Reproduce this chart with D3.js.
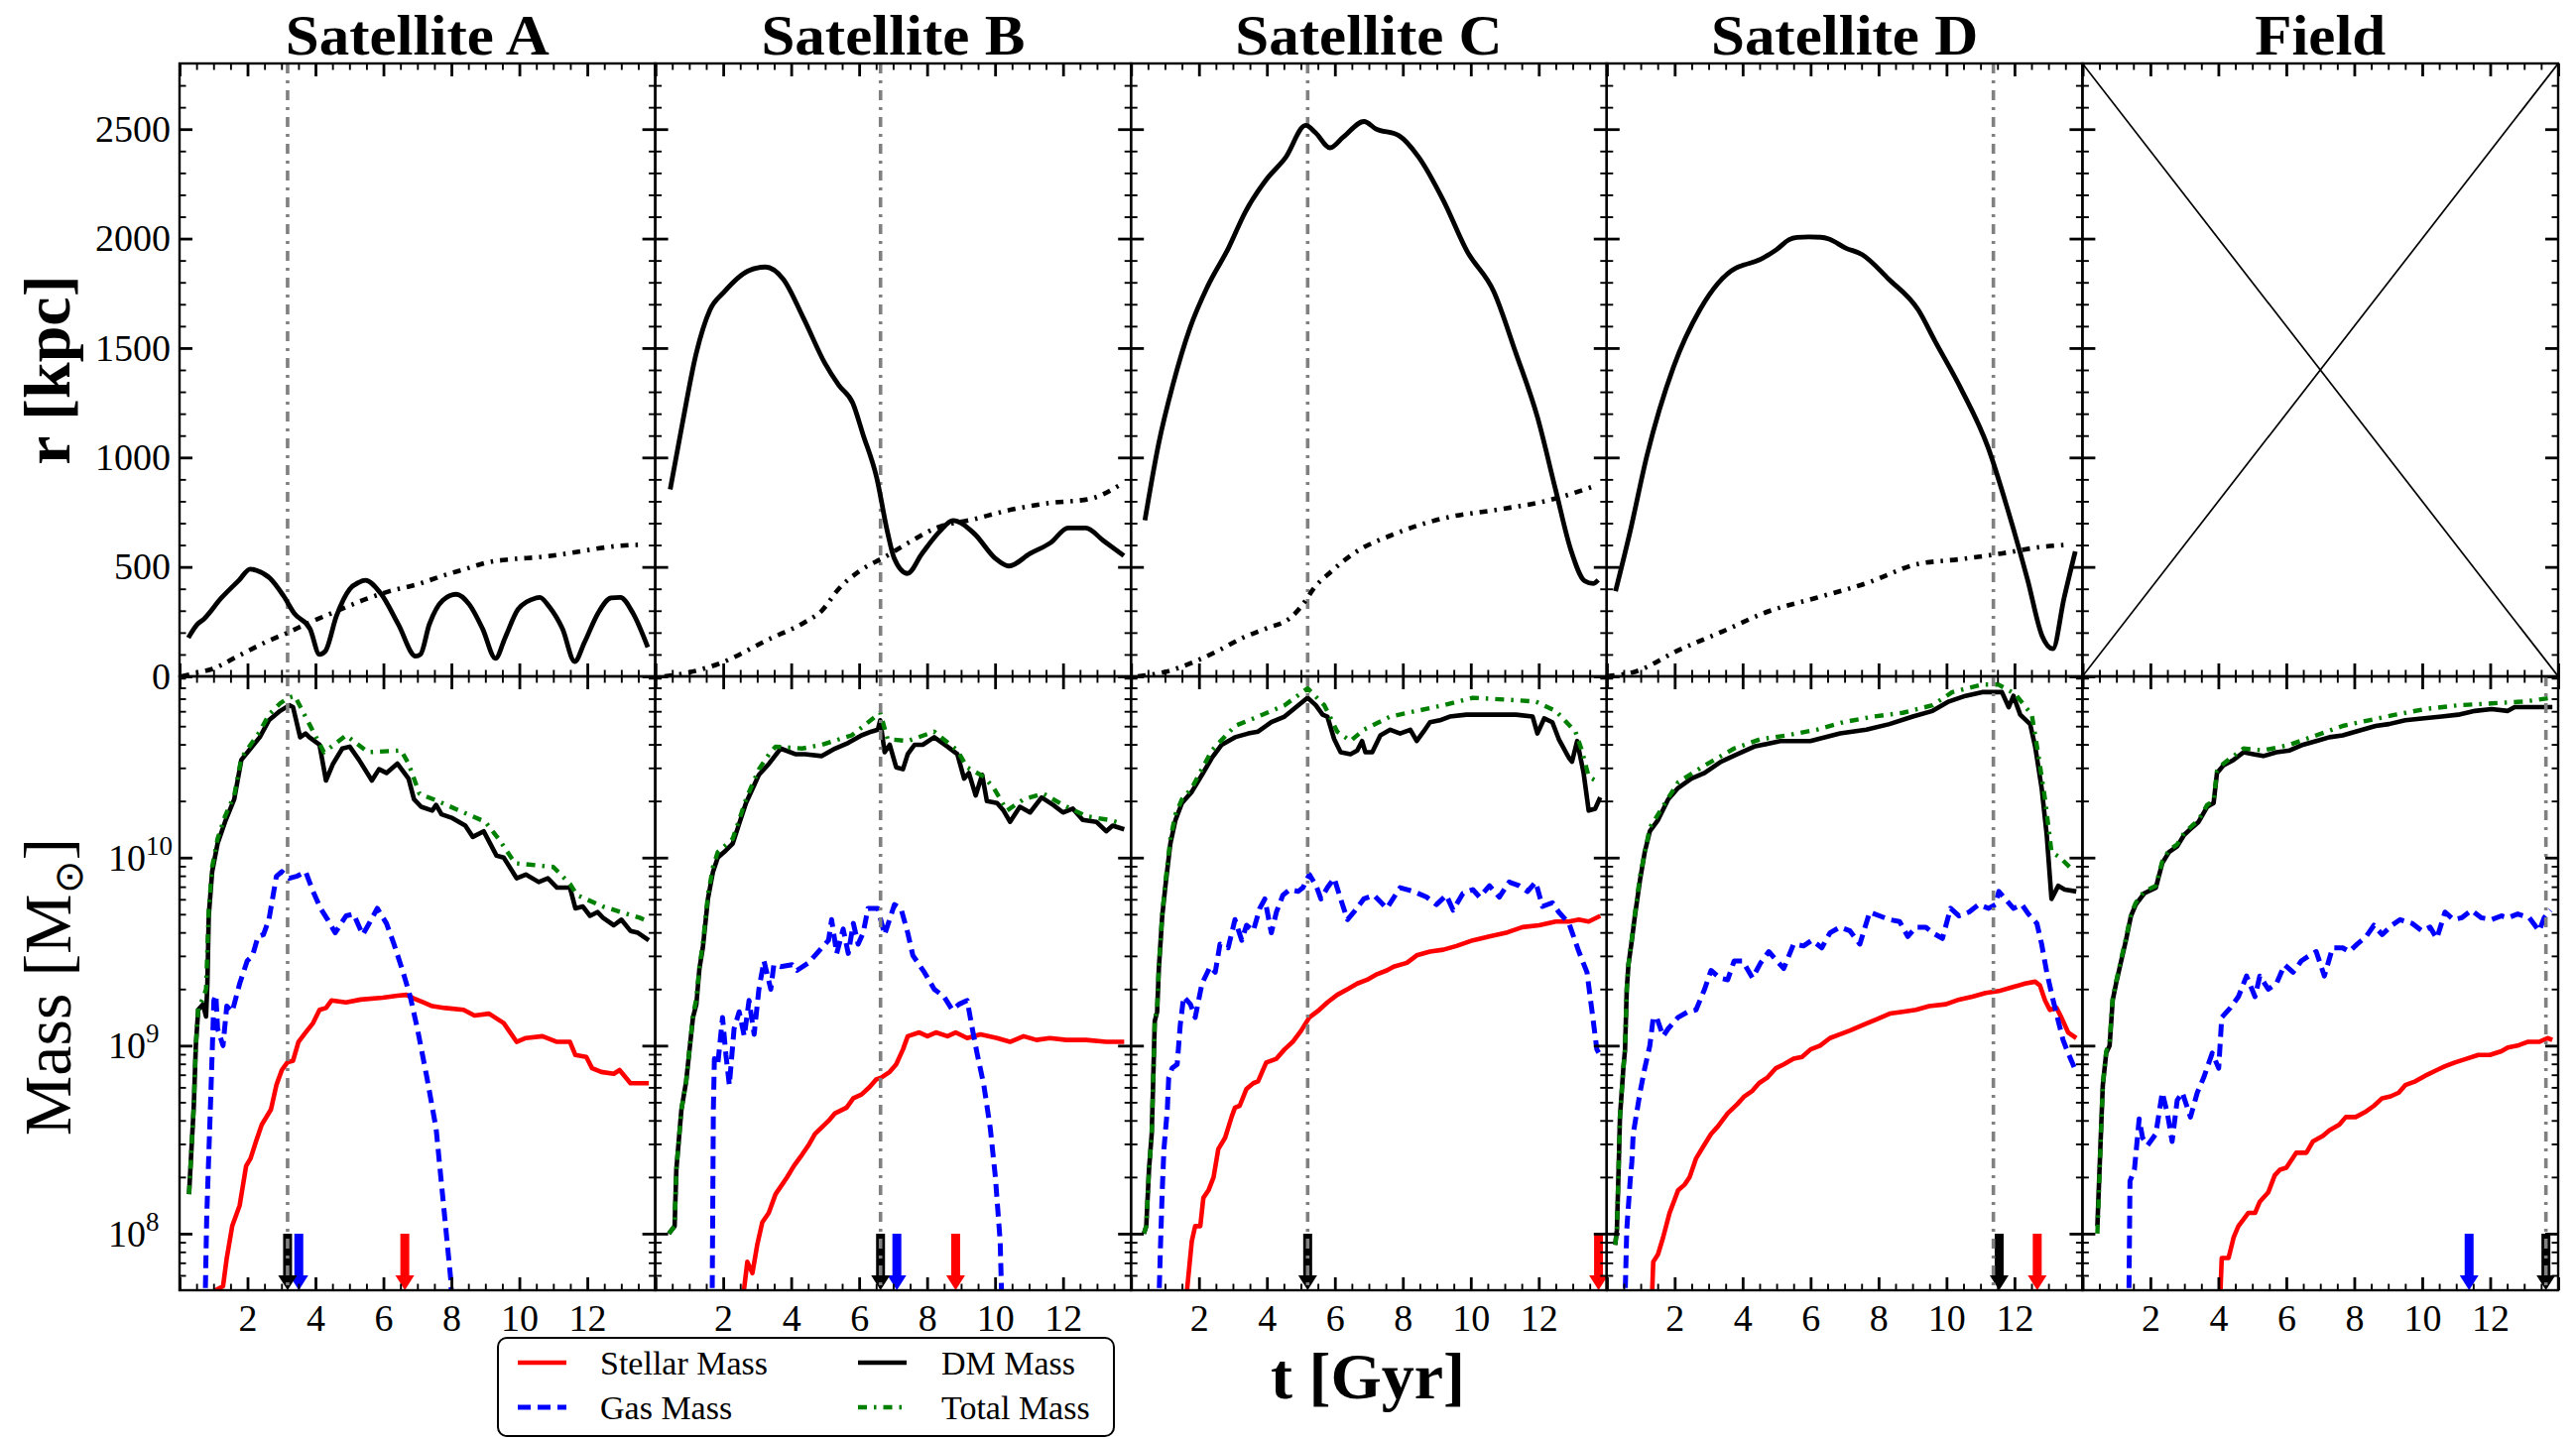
<!DOCTYPE html>
<html>
<head>
<meta charset="utf-8">
<script src="https://cdn.jsdelivr.net/npm/d3@7"></script>
<style>
  body { margin: 0; background: #fff; }
  text { fill: #000; }
</style>
</head>
<body>
<svg id="fig" width="2597" height="1451"></svg>
<script>
// ---------------------------------------------------------------
// Orbital radius r(t) [kpc] and virial radius of the host, per satellite
// ---------------------------------------------------------------
const rA = [[0.26,176],[0.52,237],[0.71,261],[1.23,358],[1.75,439],[2.08,490],[2.27,484],[2.66,449],[3.06,368],[3.38,287],[3.84,217],[4.12,100],[4.29,115],[4.62,277],[5.01,399],[5.27,429],[5.47,439],[5.92,379],[6.44,237],[6.95,92],[7.09,100],[7.35,237],[7.75,348],[8.14,375],[8.53,328],[8.92,217],[9.30,82],[9.58,176],[9.97,308],[10.49,358],[10.6,361],[10.88,318],[11.27,217],[11.63,68],[11.92,156],[12.31,287],[12.70,358],[12.97,361],[13.35,287],[13.78,133]];
const rB = [[0.44,854],[0.79,1148],[1.20,1472],[1.61,1674],[2.02,1755],[2.73,1852],[3.25,1870],[3.76,1816],[4.37,1634],[4.99,1431],[5.40,1330],[5.81,1249],[6.11,1107],[6.52,905],[6.83,662],[7.03,540],[7.42,470],[7.85,561],[8.37,662],[8.76,712],[9.39,652],[10.0,540],[10.41,504],[11.03,561],[11.64,611],[12.15,678],[12.67,678],[13.18,621],[13.79,551]];
const rC = [[0.41,713],[0.82,1067],[1.23,1330],[1.74,1593],[2.25,1780],[2.87,1957],[3.36,2120],[3.99,2271],[4.55,2370],[5.14,2517],[5.43,2484],[5.86,2415],[6.25,2464],[6.86,2535],[7.20,2502],[7.89,2470],[8.45,2376],[9.20,2172],[9.88,1945],[10.68,1757],[11.32,1480],[11.96,1185],[12.50,850],[12.94,580],[13.35,436],[13.60,424],[13.75,440]];
const rD = [[0.26,389],[0.69,662],[1.18,1006],[1.96,1411],[2.74,1674],[3.81,1866],[4.05,1880],[4.40,1897],[5.0,1950],[5.37,1995],[5.6,2005],[5.95,2008],[6.3,2006],[6.54,1998],[7.03,1957],[7.52,1927],[8.29,1816],[9.17,1674],[9.66,1532],[10.44,1310],[11.22,1047],[11.80,763],[12.39,439],[12.81,186],[13.13,126],[13.46,358],[13.79,571]];

const rvirA = [[0.06,0],[0.45,14],[0.97,34],[1.75,95],[2.53,156],[3.19,200],[3.84,247],[4.62,298],[5.4,348],[6.18,389],[6.97,419],[7.75,460],[8.40,490],[9.05,520],[9.83,536],[10.61,545],[11.40,561],[12.18,581],[12.96,597],[13.54,601]];
const rvirB = [[0.27,0],[1.0,18],[1.91,60],[3.35,170],[4.37,245],[4.9,300],[5.4,400],[6.0,480],[6.75,545],[7.45,610],[8.3,680],[9.3,715],[10.52,763],[11.5,790],[12.79,811],[13.72,879]];
const rvirC = [[0.2,0],[1.0,20],[1.84,65],[2.6,120],[3.28,176],[4.0,220],[4.71,270],[5.2,360],[5.32,389],[5.9,480],[6.55,561],[7.78,652],[9.22,723],[10.85,763],[12.29,804],[13.72,874]];
const rvirD = [[0,0],[0.89,24],[2.05,115],[3.42,206],[4.78,298],[6.15,358],[7.71,429],[9.07,510],[10.44,536],[11.6,561],[12.78,591],[13.56,601]];

// ---------------------------------------------------------------
// Mass histories, [t in Gyr, log10(M / Msun)]
// ---------------------------------------------------------------
const starA = [[1.0,7.5],[1.07,7.70],[1.28,7.72],[1.39,7.87],[1.55,8.04],[1.77,8.15],[1.96,8.36],[2.09,8.40],[2.25,8.49],[2.42,8.58],[2.69,8.66],[2.85,8.79],[3.01,8.87],[3.17,8.91],[3.34,8.92],[3.50,9.02],[3.71,9.07],[3.93,9.12],[4.12,9.19],[4.31,9.20],[4.47,9.24],[4.90,9.23],[5.33,9.245],[5.98,9.255],[6.41,9.265],[6.68,9.27],[6.90,9.25],[7.17,9.23],[7.44,9.21],[7.82,9.20],[8.36,9.19],[8.68,9.16],[9.11,9.17],[9.54,9.12],[9.92,9.02],[10.19,9.04],[10.68,9.05],[11.11,9.02],[11.49,9.02],[11.65,8.95],[11.97,8.94],[12.14,8.88],[12.41,8.86],[12.78,8.85],[12.95,8.87],[13.27,8.80],[13.81,8.80]];
const gasA = [[0.74,7.5],[0.80,8.09],[0.85,8.36],[0.91,8.68],[0.96,8.96],[1.01,9.24],[1.07,9.27],[1.12,9.09],[1.28,9.0],[1.39,9.21],[1.55,9.18],[1.77,9.33],[1.99,9.45],[2.15,9.48],[2.31,9.58],[2.47,9.59],[2.63,9.67],[2.85,9.90],[3.01,9.925],[3.23,9.89],[3.44,9.90],[3.71,9.925],[3.93,9.82],[4.15,9.73],[4.36,9.67],[4.58,9.60],[4.90,9.69],[5.12,9.70],[5.39,9.59],[5.55,9.64],[5.82,9.73],[6.09,9.65],[6.31,9.54],[6.58,9.39],[6.79,9.26],[7.0,9.09],[7.28,8.83],[7.55,8.56],[7.76,8.17],[7.98,7.76],[8.05,7.5]];
const dmA = [[0.28,8.21],[0.42,8.68],[0.48,9.0],[0.55,9.19],[0.69,9.22],[0.78,9.155],[0.82,9.33],[0.86,9.69],[0.96,9.925],[1.12,10.075],[1.34,10.19],[1.61,10.31],[1.82,10.52],[2.09,10.58],[2.36,10.64],[2.63,10.73],[2.96,10.78],[3.23,10.81],[3.34,10.80],[3.55,10.64],[3.71,10.66],[3.82,10.64],[4.12,10.60],[4.31,10.41],[4.52,10.50],[4.79,10.58],[5.01,10.59],[5.28,10.52],[5.66,10.41],[5.87,10.47],[6.09,10.45],[6.41,10.50],[6.74,10.42],[6.90,10.31],[7.11,10.27],[7.44,10.25],[7.55,10.28],[7.71,10.23],[8.03,10.21],[8.41,10.17],[8.63,10.11],[8.95,10.14],[9.33,10.01],[9.54,10.0],[9.92,9.89],[10.19,9.91],[10.57,9.87],[10.84,9.89],[11.11,9.84],[11.49,9.84],[11.65,9.73],[11.87,9.74],[12.08,9.69],[12.30,9.71],[12.46,9.68],[12.78,9.64],[13.0,9.67],[13.27,9.61],[13.49,9.60],[13.81,9.56]];
const totA = [[0.28,8.21],[0.42,8.68],[0.48,9.0],[0.55,9.2],[0.69,9.25],[0.78,9.3],[0.86,9.72],[0.96,9.95],[1.12,10.1],[1.34,10.22],[1.61,10.33],[1.82,10.53],[2.09,10.6],[2.36,10.67],[2.63,10.76],[2.96,10.82],[3.2,10.85],[3.39,10.86],[3.82,10.71],[4.25,10.56],[4.9,10.65],[5.55,10.56],[6.52,10.57],[6.74,10.50],[7.06,10.34],[7.6,10.30],[8.36,10.24],[9.0,10.19],[9.43,10.09],[9.87,9.97],[11.0,9.95],[11.49,9.86],[11.7,9.80],[12.46,9.74],[13.54,9.68],[13.81,9.66]];

const starB = [[2.58,7.5],[2.61,7.70],[2.71,7.85],[2.86,7.79],[3.00,7.94],[3.15,8.06],[3.34,8.11],[3.54,8.21],[3.73,8.26],[3.88,8.30],[4.08,8.36],[4.32,8.42],[4.51,8.47],[4.70,8.53],[5.10,8.60],[5.29,8.64],[5.63,8.67],[5.83,8.72],[6.07,8.74],[6.31,8.78],[6.50,8.82],[6.65,8.83],[6.90,8.86],[7.09,8.90],[7.29,8.98],[7.43,9.05],[7.77,9.07],[8.01,9.05],[8.26,9.07],[8.60,9.05],[8.84,9.07],[9.18,9.04],[9.57,9.06],[10.06,9.04],[10.44,9.02],[10.84,9.05],[11.22,9.03],[11.61,9.04],[12.10,9.03],[12.68,9.03],[13.27,9.02],[13.80,9.02]];
const gasB = [[1.67,7.5],[1.71,8.66],[1.74,8.93],[1.84,8.90],[1.98,9.15],[2.08,8.95],[2.18,8.79],[2.32,9.09],[2.47,9.18],[2.62,9.05],[2.76,9.24],[2.91,9.06],[3.05,9.30],[3.20,9.45],[3.40,9.30],[3.49,9.43],[3.69,9.42],[4.03,9.43],[4.17,9.40],[4.51,9.44],[4.80,9.50],[5.10,9.56],[5.19,9.67],[5.34,9.49],[5.53,9.62],[5.68,9.49],[5.83,9.65],[5.97,9.54],[6.12,9.60],[6.26,9.73],[6.55,9.73],[6.75,9.59],[7.04,9.75],[7.23,9.73],[7.43,9.60],[7.58,9.48],[7.92,9.39],[8.21,9.30],[8.50,9.26],[8.74,9.19],[8.94,9.22],[9.18,9.24],[9.33,9.09],[9.47,8.96],[9.67,8.79],[9.86,8.56],[10.01,8.30],[10.15,7.96],[10.22,7.5]];
const dmB = [[0.40,8.0],[0.57,8.04],[0.62,8.34],[0.77,8.66],[0.91,8.81],[1.11,9.15],[1.21,9.22],[1.30,9.41],[1.40,9.52],[1.55,9.78],[1.70,9.925],[1.84,10.0],[2.03,10.03],[2.28,10.075],[2.47,10.18],[2.67,10.29],[3.05,10.44],[3.35,10.50],[3.69,10.58],[4.12,10.55],[4.41,10.55],[4.90,10.54],[5.29,10.58],[5.68,10.61],[6.07,10.65],[6.36,10.67],[6.55,10.68],[6.62,10.73],[6.75,10.56],[6.90,10.60],[7.09,10.48],[7.29,10.47],[7.43,10.55],[7.63,10.60],[7.87,10.60],[8.21,10.64],[8.60,10.59],[8.89,10.55],[9.09,10.42],[9.23,10.45],[9.43,10.33],[9.62,10.44],[9.76,10.30],[10.06,10.29],[10.25,10.25],[10.44,10.19],[10.73,10.27],[11.03,10.24],[11.37,10.32],[11.71,10.28],[12.0,10.24],[12.29,10.26],[12.58,10.20],[12.98,10.19],[13.27,10.14],[13.46,10.17],[13.80,10.15]];
const totB = [[0.40,8.0],[0.57,8.04],[0.62,8.34],[0.77,8.66],[0.91,8.81],[1.11,9.16],[1.21,9.25],[1.30,9.42],[1.40,9.54],[1.55,9.8],[1.70,9.95],[1.84,10.03],[2.03,10.06],[2.28,10.1],[2.47,10.2],[2.67,10.31],[3.05,10.47],[3.35,10.55],[3.54,10.59],[4.32,10.58],[4.9,10.60],[5.78,10.65],[6.62,10.77],[6.84,10.63],[7.43,10.62],[8.21,10.67],[8.89,10.57],[9.18,10.48],[9.67,10.43],[9.96,10.37],[10.35,10.25],[10.84,10.31],[11.42,10.34],[12.0,10.28],[12.68,10.22],[13.36,10.20],[13.75,10.18]];

const starC = [[1.63,7.5],[1.65,7.70],[1.79,7.96],[1.89,8.04],[2.04,8.04],[2.13,8.19],[2.28,8.23],[2.43,8.30],[2.57,8.45],[2.77,8.51],[2.96,8.62],[3.06,8.67],[3.20,8.68],[3.40,8.77],[3.60,8.80],[3.74,8.81],[3.98,8.91],[4.28,8.93],[4.52,8.98],[4.76,9.02],[5.01,9.08],[5.25,9.15],[5.54,9.19],[5.78,9.23],[6.07,9.27],[6.37,9.30],[6.66,9.33],[6.95,9.35],[7.24,9.38],[7.53,9.40],[7.73,9.42],[8.12,9.44],[8.41,9.48],[8.80,9.50],[9.19,9.51],[9.58,9.53],[10.06,9.56],[10.55,9.58],[11.04,9.60],[11.52,9.63],[12.01,9.64],[12.50,9.66],[12.89,9.66],[13.18,9.67],[13.47,9.66],[13.81,9.69]];
const gasC = [[0.80,7.5],[0.87,7.94],[0.92,8.23],[0.97,8.45],[1.07,8.66],[1.11,8.83],[1.21,8.88],[1.36,8.90],[1.45,9.11],[1.55,9.26],[1.75,9.22],[1.89,9.15],[2.09,9.33],[2.33,9.42],[2.48,9.39],[2.62,9.54],[2.86,9.52],[3.06,9.67],[3.26,9.56],[3.40,9.64],[3.60,9.61],[3.79,9.73],[3.94,9.78],[4.13,9.60],[4.28,9.71],[4.47,9.80],[4.67,9.83],[4.92,9.82],[5.06,9.84],[5.25,9.91],[5.45,9.85],[5.59,9.78],[5.78,9.84],[5.98,9.89],[6.17,9.78],[6.37,9.67],[6.56,9.71],[6.85,9.78],[7.15,9.80],[7.53,9.73],[7.92,9.84],[8.31,9.82],[8.70,9.79],[8.99,9.75],[9.28,9.80],[9.48,9.72],[9.77,9.81],[10.06,9.83],[10.26,9.79],[10.55,9.85],[10.84,9.79],[11.13,9.87],[11.43,9.85],[11.67,9.82],[11.91,9.87],[12.11,9.74],[12.40,9.76],[12.59,9.71],[12.89,9.65],[13.18,9.50],[13.42,9.39],[13.57,9.18],[13.71,8.98],[13.80,8.95]];
const dmC = [[0.38,8.0],[0.45,8.04],[0.53,8.34],[0.61,8.53],[0.65,8.79],[0.70,9.13],[0.77,9.18],[0.82,9.41],[0.92,9.69],[1.02,9.86],[1.16,10.075],[1.31,10.20],[1.50,10.29],[1.79,10.35],[2.09,10.44],[2.38,10.53],[2.67,10.60],[3.06,10.64],[3.45,10.66],[3.74,10.67],[4.13,10.72],[4.52,10.75],[4.86,10.80],[5.20,10.85],[5.44,10.81],[5.64,10.76],[5.78,10.75],[5.98,10.63],[6.17,10.56],[6.46,10.55],[6.66,10.57],[6.80,10.62],[6.90,10.56],[7.10,10.56],[7.34,10.65],[7.63,10.68],[7.92,10.66],[8.22,10.68],[8.41,10.62],[8.61,10.67],[8.80,10.72],[9.09,10.73],[9.38,10.75],[9.87,10.76],[10.36,10.76],[10.84,10.76],[11.33,10.76],[11.82,10.75],[11.96,10.66],[12.16,10.74],[12.40,10.72],[12.59,10.63],[12.89,10.53],[12.98,10.51],[13.13,10.62],[13.32,10.45],[13.47,10.25],[13.66,10.26],[13.81,10.32]];
const totC = [[0.38,8.0],[0.45,8.04],[0.53,8.34],[0.61,8.53],[0.65,8.79],[0.70,9.13],[0.77,9.2],[0.82,9.42],[0.92,9.7],[1.02,9.88],[1.16,10.1],[1.31,10.23],[1.5,10.31],[1.79,10.37],[2.38,10.57],[3.06,10.70],[3.74,10.75],[4.52,10.81],[5.20,10.90],[5.69,10.81],[6.07,10.67],[6.46,10.62],[6.85,10.68],[7.63,10.75],[8.41,10.78],[9.19,10.81],[10.06,10.85],[11.04,10.84],[11.91,10.83],[12.50,10.78],[13.08,10.67],[13.27,10.57],[13.47,10.43],[13.76,10.40]];

const starD = [[1.30,7.5],[1.37,7.85],[1.51,7.89],[1.66,7.98],[1.85,8.11],[2.10,8.23],[2.29,8.26],[2.44,8.30],[2.63,8.40],[2.83,8.46],[3.07,8.53],[3.27,8.57],[3.56,8.64],[3.85,8.69],[4.05,8.73],[4.29,8.76],[4.48,8.80],[4.73,8.83],[4.98,8.88],[5.21,8.90],[5.50,8.93],[5.75,8.94],[6.0,8.98],[6.28,9.0],[6.57,9.04],[6.87,9.06],[7.16,9.08],[7.55,9.11],[7.94,9.14],[8.33,9.17],[8.71,9.18],[9.10,9.19],[9.49,9.21],[9.98,9.22],[10.37,9.245],[10.76,9.26],[11.15,9.28],[11.54,9.29],[11.93,9.31],[12.31,9.33],[12.61,9.34],[12.75,9.32],[12.90,9.24],[13.04,9.19],[13.24,9.20],[13.38,9.15],[13.58,9.07],[13.82,9.04]];
const gasD = [[0.52,7.5],[0.59,8.02],[0.69,8.28],[0.74,8.38],[0.78,8.53],[0.88,8.64],[0.98,8.75],[1.12,8.88],[1.27,9.0],[1.37,9.15],[1.47,9.15],[1.66,9.05],[1.81,9.09],[2.10,9.15],[2.39,9.18],[2.63,9.19],[2.88,9.30],[3.07,9.40],[3.32,9.36],[3.56,9.35],[3.75,9.45],[4.0,9.45],[4.29,9.36],[4.53,9.44],[4.77,9.50],[5.21,9.41],[5.50,9.54],[5.79,9.53],[6.04,9.56],[6.33,9.52],[6.57,9.60],[6.87,9.63],[7.16,9.61],[7.45,9.54],[7.74,9.71],[8.03,9.69],[8.32,9.67],[8.62,9.66],[8.86,9.58],[9.10,9.63],[9.39,9.63],[9.59,9.60],[9.88,9.57],[10.12,9.73],[10.37,9.69],[10.66,9.71],[10.95,9.75],[11.24,9.73],[11.44,9.75],[11.54,9.82],[11.73,9.78],[11.97,9.73],[12.22,9.75],[12.41,9.70],[12.66,9.65],[12.80,9.54],[12.95,9.39],[13.14,9.24],[13.29,9.13],[13.43,9.03],[13.58,8.96],[13.77,8.88]];
const dmD = [[0.25,7.94],[0.30,8.02],[0.35,8.34],[0.39,8.62],[0.49,8.88],[0.54,8.98],[0.59,9.30],[0.64,9.43],[0.74,9.56],[0.83,9.69],[0.98,9.88],[1.12,10.03],[1.27,10.14],[1.51,10.20],[1.81,10.31],[2.10,10.37],[2.49,10.42],[2.88,10.45],[3.36,10.51],[3.85,10.55],[4.34,10.59],[5.11,10.62],[5.99,10.62],[6.87,10.66],[7.64,10.68],[8.32,10.71],[9.01,10.75],[9.59,10.78],[10.07,10.83],[10.56,10.86],[11.05,10.88],[11.63,10.88],[11.83,10.80],[11.97,10.86],[12.17,10.76],[12.46,10.71],[12.61,10.59],[12.80,10.37],[12.95,10.12],[13.09,9.78],[13.29,9.85],[13.48,9.83],[13.82,9.82]];
const totD = [[0.25,7.94],[0.30,8.02],[0.35,8.34],[0.39,8.62],[0.49,8.88],[0.54,8.98],[0.59,9.30],[0.64,9.43],[0.74,9.57],[0.83,9.7],[0.98,9.90],[1.27,10.16],[2.10,10.40],[2.88,10.49],[3.75,10.58],[4.53,10.63],[5.31,10.65],[6.18,10.68],[6.96,10.72],[7.84,10.75],[8.71,10.77],[9.59,10.81],[10.17,10.88],[11.05,10.92],[11.53,10.92],[12.02,10.87],[12.51,10.76],[12.70,10.55],[12.90,10.31],[13.09,10.03],[13.34,10.0],[13.68,9.94]];

const starF = [[4.02,7.5],[4.10,7.87],[4.30,7.87],[4.45,7.98],[4.59,8.04],[4.88,8.11],[5.08,8.11],[5.22,8.17],[5.47,8.22],[5.66,8.31],[5.81,8.34],[6.00,8.35],[6.29,8.43],[6.59,8.43],[6.78,8.49],[7.08,8.52],[7.27,8.55],[7.56,8.58],[7.75,8.62],[8.04,8.62],[8.35,8.65],[8.58,8.68],[8.82,8.72],[9.07,8.73],[9.31,8.75],[9.50,8.79],[9.80,8.81],[10.09,8.84],[10.43,8.87],[10.67,8.89],[10.96,8.91],[11.30,8.93],[11.65,8.95],[11.99,8.95],[12.33,8.97],[12.52,8.99],[12.81,9.0],[13.10,9.02],[13.44,9.02],[13.69,9.04],[13.83,9.03]];
const gasF = [[1.36,7.5],[1.40,8.28],[1.53,8.34],[1.67,8.61],[1.77,8.51],[1.92,8.47],[2.16,8.53],[2.35,8.75],[2.50,8.64],[2.64,8.49],[2.79,8.71],[2.94,8.75],[3.18,8.62],[3.38,8.75],[3.57,8.83],[3.82,8.96],[4.01,8.88],[4.10,9.15],[4.35,9.20],[4.59,9.26],[4.83,9.37],[5.08,9.26],[5.22,9.37],[5.47,9.30],[5.71,9.33],[5.95,9.43],[6.20,9.39],[6.44,9.45],[6.69,9.48],[6.88,9.50],[7.12,9.37],[7.36,9.52],[7.66,9.52],[7.85,9.50],[8.09,9.54],[8.35,9.58],[8.58,9.64],[8.82,9.59],[9.11,9.64],[9.35,9.67],[9.70,9.65],[9.99,9.61],[10.23,9.63],[10.43,9.57],[10.67,9.71],[10.92,9.67],[11.16,9.68],[11.45,9.72],[11.74,9.68],[12.04,9.67],[12.33,9.69],[12.52,9.68],[12.81,9.70],[13.15,9.68],[13.44,9.61],[13.59,9.68],[13.78,9.72]];
const dmF = [[0.44,8.04],[0.48,8.23],[0.55,8.56],[0.60,8.79],[0.70,8.96],[0.80,9.0],[0.89,9.24],[0.99,9.33],[1.14,9.45],[1.28,9.56],[1.43,9.69],[1.57,9.75],[1.82,9.81],[2.16,9.84],[2.35,9.97],[2.55,10.03],[2.79,10.06],[2.99,10.12],[3.23,10.16],[3.42,10.19],[3.67,10.27],[3.86,10.29],[3.96,10.45],[4.15,10.49],[4.45,10.52],[4.74,10.56],[5.03,10.55],[5.32,10.54],[5.71,10.56],[6.10,10.57],[6.49,10.60],[6.88,10.62],[7.27,10.64],[7.66,10.65],[8.04,10.67],[8.63,10.70],[9.02,10.71],[9.50,10.73],[9.99,10.74],[10.57,10.75],[11.06,10.76],[11.55,10.78],[12.04,10.79],[12.52,10.78],[12.72,10.80],[13.30,10.80],[13.83,10.80]];
const totF = [[0.44,8.0],[0.48,8.2],[0.55,8.56],[0.60,8.79],[0.70,8.97],[0.80,9.02],[0.89,9.25],[0.99,9.34],[1.14,9.46],[1.28,9.57],[1.43,9.7],[1.57,9.76],[1.82,9.82],[2.16,9.85],[2.35,9.98],[2.55,10.04],[2.79,10.07],[2.99,10.13],[3.23,10.17],[3.42,10.2],[3.67,10.28],[3.86,10.30],[3.96,10.46],[4.15,10.50],[4.74,10.58],[5.32,10.57],[6.10,10.60],[6.88,10.65],[7.66,10.70],[8.43,10.73],[9.21,10.76],[10.09,10.79],[11.06,10.81],[12.04,10.82],[13.01,10.83],[13.83,10.85]];

// ---------------------------------------------------------------
// Panels, event times and tick values
// ---------------------------------------------------------------
const panelTitles = ["Satellite A", "Satellite B", "Satellite C", "Satellite D", "Field"];
const orbitSeries = [rA, rB, rC, rD, null];
const rvirSeries  = [rvirA, rvirB, rvirC, rvirD, null];
const starSeries  = [starA, starB, starC, starD, starF];
const gasSeries   = [gasA, gasB, gasC, gasD, gasF];
const dmSeries    = [dmA, dmB, dmC, dmD, dmF];
const totSeries   = [totA, totB, totC, totD, totF];

const passageT   = [3.18, 6.63, 5.20, 11.38, 13.64];   // dash-dot guide
const dmArrowT   = [3.18, 6.63, 5.20, 11.55, 13.64];
const gasArrowT  = [3.51, 7.11, null, null, 11.38];
const starArrowT = [6.63, 8.84, 13.76, 12.67, null];

const tDomain = [0, 14];
const tMajor = [0, 2, 4, 6, 8, 10, 12, 14];
const tLabels = [2, 4, 6, 8, 10, 12];
const rDomain = [0, 2800];
const rMajor = [0, 500, 1000, 1500, 2000, 2500];
const mDomain = [5e7, 9.2e10];
const mMajor = [1e8, 1e9, 1e10];

const legendItems = [
  { label: "Stellar Mass", key: "star" },
  { label: "Gas Mass",     key: "gas"  },
  { label: "DM Mass",      key: "dm"   },
  { label: "Total Mass",   key: "tot"  }
];

(function drawFigure() {
  // -------------------------------------------------------------
  // Layout and styles
  // -------------------------------------------------------------
  const SERIF = "'Liberation Serif', 'Times New Roman', serif";
  const plotLeft = 181, panelW = 479.6, plotTop = 64, rowSplit = 682, plotBottom = 1301;
  const MAJ = 13, MIN = 6.5;

  const styles = {
    star: { stroke: "#ff0000", width: 4.6, dash: null },
    gas:  { stroke: "#0000ff", width: 5, dash: "13,7" },
    dm:   { stroke: "#000000", width: 4.6, dash: null },
    tot:  { stroke: "#008000", width: 4.4, dash: "9,7,2.5,7" },
    orbit:{ stroke: "#000000", width: 4.8, dash: null },
    rvir: { stroke: "#000000", width: 4.6, dash: "8,7,2.5,7" }
  };

  const svg = d3.select("#fig");
  svg.append("rect").attr("width", 2597).attr("height", 1451).attr("fill", "#fff");
  const defs = svg.append("defs");

  const yR = d3.scaleLinear().domain(rDomain).range([rowSplit, plotTop]);
  const yM = d3.scaleLog().domain(mDomain).range([plotBottom, rowSplit]);

  const logMinor = [];
  for (let e = 7; e <= 10; e++) for (let m = 2; m <= 9; m++) {
    const v = m * Math.pow(10, e);
    if (v > mDomain[0] && v < mDomain[1]) logMinor.push(v);
  }
  const tMinor = d3.range(0.5, 14, 0.5).filter(v => v % 2 !== 0);
  const rMinor = d3.range(100, 2800, 100).filter(v => v % 500 !== 0);

  function styleTicks(g, w) {
    g.select(".domain").remove();
    g.selectAll(".tick line").attr("stroke", "#000").attr("stroke-width", w);
  }

  // inward ticks on all four sides of a panel
  function frameTicks(g, x, y, yMaj, yMin, x0, x1, y0, y1) {
    [[tMajor, MAJ, 2.8], [tMinor, MIN, 1.9]].forEach(([vals, len, w]) => {
      g.append("g").attr("transform", `translate(0,${y1})`)
        .call(d3.axisBottom(x).tickValues(vals).tickSize(-len).tickFormat(""))
        .call(s => styleTicks(s, w));
      g.append("g").attr("transform", `translate(0,${y0})`)
        .call(d3.axisTop(x).tickValues(vals).tickSize(-len).tickFormat(""))
        .call(s => styleTicks(s, w));
    });
    [[yMaj, MAJ, 2.8], [yMin, MIN, 1.9]].forEach(([vals, len, w]) => {
      g.append("g").attr("transform", `translate(${x0},0)`)
        .call(d3.axisLeft(y).tickValues(vals).tickSize(-len).tickFormat(""))
        .call(s => styleTicks(s, w));
      g.append("g").attr("transform", `translate(${x1},0)`)
        .call(d3.axisRight(y).tickValues(vals).tickSize(-len).tickFormat(""))
        .call(s => styleTicks(s, w));
    });
    g.append("rect").attr("x", x0).attr("y", y0).attr("width", x1 - x0).attr("height", y1 - y0)
      .attr("fill", "none").attr("stroke", "#000").attr("stroke-width", 2.4);
  }

  function drawLine(g, data, x, y, st, curve) {
    const line = d3.line().x(d => x(d[0])).y(d => y(d[1])).curve(curve || d3.curveLinear);
    const p = g.append("path").datum(data).attr("d", line)
      .attr("fill", "none").attr("stroke", st.stroke).attr("stroke-width", st.width)
      .attr("stroke-linejoin", "round");
    if (st.dash) p.attr("stroke-dasharray", st.dash);
    return p;
  }

  function drawArrow(g, t, color, x) {
    const cx = x(t), yTop = yM(1e8), yTip = plotBottom, shaftW = 9, headW = 19, headL = 15;
    const pts = [
      [cx - shaftW / 2, yTop], [cx + shaftW / 2, yTop], [cx + shaftW / 2, yTip - headL],
      [cx + headW / 2, yTip - headL], [cx, yTip], [cx - headW / 2, yTip - headL],
      [cx - shaftW / 2, yTip - headL]
    ];
    g.append("polygon").attr("points", pts.map(p => p.join(",")).join(" ")).attr("fill", color);
  }

  function guideLine(g, t, x, y0, y1) {
    g.append("line").attr("x1", x(t)).attr("x2", x(t)).attr("y1", y0).attr("y2", y1)
      .attr("stroke", "#808080").attr("stroke-width", 3.6).attr("stroke-dasharray", "10,7,3,7");
  }

  const toMass = s => s.map(d => [d[0], Math.pow(10, d[1])]);

  panelTitles.forEach((title, i) => {
    const x0 = plotLeft + i * panelW, x1 = x0 + panelW;
    const x = d3.scaleLinear().domain(tDomain).range([x0, x1]);

    defs.append("clipPath").attr("id", `clipTop${i}`).append("rect")
      .attr("x", x0).attr("y", plotTop).attr("width", panelW).attr("height", rowSplit - plotTop);
    defs.append("clipPath").attr("id", `clipBot${i}`).append("rect")
      .attr("x", x0).attr("y", rowSplit).attr("width", panelW).attr("height", plotBottom - rowSplit);

    // wide bold serif title, stretched slightly horizontally
    svg.append("text").attr("transform", `translate(${(x0 + x1) / 2},55) scale(1.07,1)`)
      .attr("text-anchor", "middle")
      .attr("font-family", SERIF).attr("font-weight", "bold").attr("font-size", 57).text(title);

    // upper row: orbital radius
    const gT = svg.append("g").attr("clip-path", `url(#clipTop${i})`);
    if (orbitSeries[i]) {
      guideLine(gT, passageT[i], x, plotTop, rowSplit);
      drawLine(gT, rvirSeries[i], x, yR, styles.rvir, d3.curveMonotoneX);
      drawLine(gT, orbitSeries[i], x, yR, styles.orbit, d3.curveMonotoneX);
    } else {
      gT.append("line").attr("x1", x0).attr("y1", plotTop).attr("x2", x1).attr("y2", rowSplit)
        .attr("stroke", "#000").attr("stroke-width", 1.7);
      gT.append("line").attr("x1", x0).attr("y1", rowSplit).attr("x2", x1).attr("y2", plotTop)
        .attr("stroke", "#000").attr("stroke-width", 1.7);
    }
    frameTicks(svg.append("g"), x, yR, rMajor, rMinor, x0, x1, plotTop, rowSplit);

    // lower row: masses
    const gB = svg.append("g").attr("clip-path", `url(#clipBot${i})`);
    drawLine(gB, toMass(starSeries[i]), x, yM, styles.star);
    drawLine(gB, toMass(gasSeries[i]), x, yM, styles.gas);
    drawLine(gB, toMass(dmSeries[i]), x, yM, styles.dm);
    drawLine(gB, toMass(totSeries[i]), x, yM, styles.tot);

    if (starArrowT[i] != null) drawArrow(gB, starArrowT[i], "#ff0000", x);
    if (gasArrowT[i] != null) drawArrow(gB, gasArrowT[i], "#0000ff", x);
    if (dmArrowT[i] != null) drawArrow(gB, dmArrowT[i], "#000000", x);
    guideLine(gB, passageT[i], x, rowSplit, plotBottom);

    frameTicks(svg.append("g"), x, yM, mMajor, logMinor, x0, x1, rowSplit, plotBottom);

    svg.append("g").attr("transform", `translate(0,${plotBottom})`)
      .call(d3.axisBottom(x).tickValues(tLabels).tickSize(0).tickPadding(14))
      .call(g => {
        g.select(".domain").remove();
        g.selectAll("text").attr("font-family", SERIF).attr("font-size", 38).attr("fill", "#000");
      });

    if (i === 0) {
      svg.append("g").attr("transform", `translate(${x0},0)`)
        .call(d3.axisLeft(yR).tickValues(rMajor).tickSize(0).tickPadding(9).tickFormat(d3.format("d")))
        .call(g => {
          g.select(".domain").remove();
          g.selectAll("text").attr("font-family", SERIF).attr("font-size", 38).attr("fill", "#000");
        });
      mMajor.forEach(v => {
        svg.append("text").attr("x", x0 - 34).attr("y", yM(v) + 13)
          .attr("font-family", SERIF).attr("font-size", 38).attr("text-anchor", "end").text("10");
        svg.append("text").attr("x", x0 - 34).attr("y", yM(v) - 3)
          .attr("font-family", SERIF).attr("font-size", 27).attr("text-anchor", "start")
          .text(String(Math.round(Math.log10(v))));
      });
    }
  });

  // axis titles
  svg.append("text").attr("transform", "translate(70,373) rotate(-90)").attr("text-anchor", "middle")
    .attr("font-family", SERIF).attr("font-weight", "bold").attr("font-size", 66).text("r [kpc]");

  const massLabel = svg.append("text").attr("transform", "translate(71,995) rotate(-90)")
    .attr("text-anchor", "middle").attr("font-family", SERIF).attr("font-size", 68);
  massLabel.append("tspan").text("Mass [M");
  massLabel.append("tspan").attr("font-size", 40).attr("dy", 12).text("\u2299");
  massLabel.append("tspan").attr("dy", -12).text("]");

  svg.append("text").attr("x", 1379).attr("y", 1410).attr("text-anchor", "middle")
    .attr("font-family", SERIF).attr("font-weight", "bold").attr("font-size", 66).text("t [Gyr]");

  // legend
  const lg = svg.append("g");
  lg.append("rect").attr("x", 502).attr("y", 1349).attr("width", 621).attr("height", 99)
    .attr("rx", 9).attr("fill", "#fff").attr("stroke", "#000").attr("stroke-width", 2);
  const legPos = [
    { lx: 522, tx: 605, y: 1374 }, { lx: 522, tx: 605, y: 1419 },
    { lx: 865, tx: 949, y: 1374 }, { lx: 865, tx: 949, y: 1419 }
  ];
  legendItems.forEach((item, k) => {
    const p = legPos[k], st = styles[item.key];
    const ln = lg.append("line").attr("x1", p.lx).attr("x2", p.lx + 49).attr("y1", p.y).attr("y2", p.y)
      .attr("stroke", st.stroke).attr("stroke-width", st.width);
    if (st.dash) ln.attr("stroke-dasharray", st.dash);
    lg.append("text").attr("x", p.tx).attr("y", p.y + 12).attr("font-family", SERIF)
      .attr("font-size", 34).text(item.label);
  });
})();
</script>
</body>
</html>
